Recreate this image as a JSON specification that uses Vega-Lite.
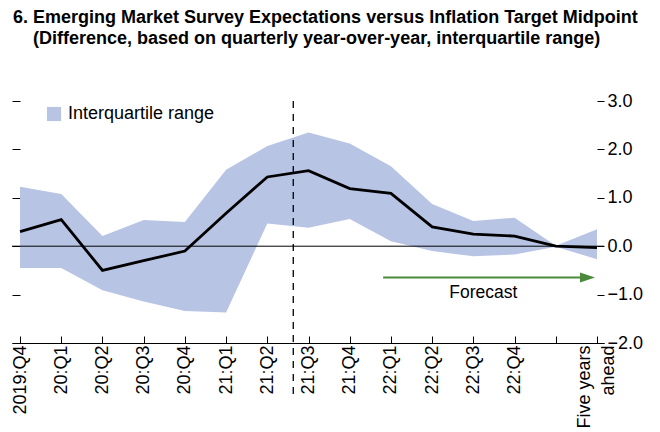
{
  "$schema": "https://vega.github.io/schema/vega-lite/v6.json",
  "autosize": {"type": "none"},
  "padding": {"left": 12, "top": 101, "right": 56, "bottom": 89},
  "width": 592,
  "height": 242,
  "background": "white",
  "title": {
    "text": ["6. Emerging Market Survey Expectations versus Inflation Target Midpoint", "\u200b\u00a0\u00a0\u00a0\u00a0(Difference, based on quarterly year-over-year, interquartile range)"],
    "anchor": "start",
    "frame": "group",
    "font": "Liberation Sans",
    "fontSize": 18,
    "fontWeight": "bold",
    "color": "black",
    "lineHeight": 21,
    "offset": 44,
    "dx": 1
  },
  "config": {
    "view": {"stroke": null},
    "font": "Liberation Sans",
    "axis": {"grid": false, "labelColor": "black", "tickColor": "black", "domainColor": "black", "labelFont": "Liberation Sans", "labelFontSize": 18}
  },
  "data": {
    "values": [
      {"i": 0, "lo": -0.45, "hi": 1.23, "med": 0.30},
      {"i": 1, "lo": -0.45, "hi": 1.08, "med": 0.55},
      {"i": 2, "lo": -0.91, "hi": 0.21, "med": -0.50},
      {"i": 3, "lo": -1.14, "hi": 0.54, "med": -0.30},
      {"i": 4, "lo": -1.34, "hi": 0.50, "med": -0.10},
      {"i": 5, "lo": -1.37, "hi": 1.58, "med": 0.68},
      {"i": 6, "lo": 0.47, "hi": 2.07, "med": 1.43},
      {"i": 7, "lo": 0.38, "hi": 2.35, "med": 1.56},
      {"i": 8, "lo": 0.56, "hi": 2.12, "med": 1.19},
      {"i": 9, "lo": 0.10, "hi": 1.65, "med": 1.09},
      {"i": 10, "lo": -0.10, "hi": 0.87, "med": 0.40},
      {"i": 11, "lo": -0.21, "hi": 0.52, "med": 0.25},
      {"i": 12, "lo": -0.17, "hi": 0.59, "med": 0.21},
      {"i": 13, "lo": -0.01, "hi": 0.01, "med": 0.00},
      {"i": 14, "lo": -0.27, "hi": 0.35, "med": -0.03}
    ]
  },
  "resolve": {"axis": {"y": "independent"}},
  "layer": [
    {
      "mark": {"type": "area", "opacity": 1},
      "encoding": {
        "x": {
          "field": "i", "type": "quantitative",
          "scale": {"domain": [-0.195, 14.17], "nice": false, "zero": false},
          "axis": {
            "title": null, "values": [0,1,2,3,4,5,6,7,8,9,10,11,12,13,14],
            "labelExpr": "datum.value == 14 ? ['Five years', 'ahead'] : ['2019:Q4','20:Q1','20:Q2','20:Q3','20:Q4','21:Q1','21:Q2','21:Q3','21:Q4','22:Q1','22:Q2','22:Q3','22:Q4',''][datum.value]",
            "labelAngle": -90, "labelAlign": "right", "labelBaseline": "middle",
            "labelPadding": 9, "labelLineHeight": 24,
            "labelOffset": {"condition": {"test": "datum.value == 14", "value": -12}, "value": 0},
            "tickSize": -7, "domainWidth": 1, "tickWidth": 1, "labelOverlap": false, "labelFlush": false
          }
        },
        "y": {
          "field": "lo", "type": "quantitative",
          "scale": {"domain": [-2, 3], "nice": false},
          "axis": {"orient": "left", "title": null, "values": [-2,-1,0,1,2,3], "labels": false, "domain": false, "tickSize": -8, "tickWidth": 1}
        },
        "y2": {"field": "hi"},
        "fill": {"datum": "Interquartile range", "type": "nominal", "scale": {"range": ["#b8c4e4"]},
          "legend": {"title": null, "orient": "none", "legendX": 33, "legendY": 4, "symbolType": "square", "symbolSize": 200, "symbolStrokeWidth": 0, "symbolOpacity": 1, "labelFontSize": 18, "labelFont": "Liberation Sans", "labelColor": "black", "labelOffset": 5}}
      }
    },
    {
      "data": {"values": [{}]},
      "mark": {"type": "rule", "color": "black", "strokeWidth": 1},
      "encoding": {
        "y": {"datum": 0, "type": "quantitative",
          "axis": {"orient": "right", "title": null, "values": [-2,-1,0,1,2,3], "format": ".1f", "domain": false, "tickSize": -7, "tickWidth": 1, "labelPadding": 10}}
      }
    },
    {
      "data": {"values": [{}]},
      "mark": {"type": "rule", "color": "black", "strokeWidth": 1.3, "strokeDash": [7, 6]},
      "encoding": {
        "x": {"datum": 6.63, "type": "quantitative"},
        "y": {"datum": 3, "type": "quantitative", "axis": null},
        "y2": {"datum": -3.14}
      }
    },
    {
      "mark": {"type": "line", "color": "black", "strokeWidth": 2.8},
      "encoding": {
        "x": {"field": "i", "type": "quantitative"},
        "y": {"field": "med", "type": "quantitative", "axis": null}
      }
    },
    {
      "data": {"values": [{}]},
      "mark": {"type": "rule", "color": "#4a8a3a", "strokeWidth": 2},
      "encoding": {
        "x": {"datum": 8.81, "type": "quantitative"},
        "x2": {"datum": 13.7},
        "y": {"datum": -0.647, "type": "quantitative", "axis": null}
      }
    },
    {
      "data": {"values": [{}]},
      "mark": {"type": "point", "shape": "M-1,-0.67L1,0L-1,0.67Z", "filled": true, "color": "#4a8a3a", "size": 225, "opacity": 1},
      "encoding": {
        "x": {"datum": 13.77, "type": "quantitative"},
        "y": {"datum": -0.647, "type": "quantitative", "axis": null}
      }
    },
    {
      "data": {"values": [{}]},
      "mark": {"type": "text", "text": "Forecast", "font": "Liberation Sans", "fontSize": 17.5, "color": "black", "align": "center", "baseline": "middle"},
      "encoding": {
        "x": {"datum": 11.24, "type": "quantitative"},
        "y": {"datum": -0.97, "type": "quantitative", "axis": null}
      }
    }
  ]
}
